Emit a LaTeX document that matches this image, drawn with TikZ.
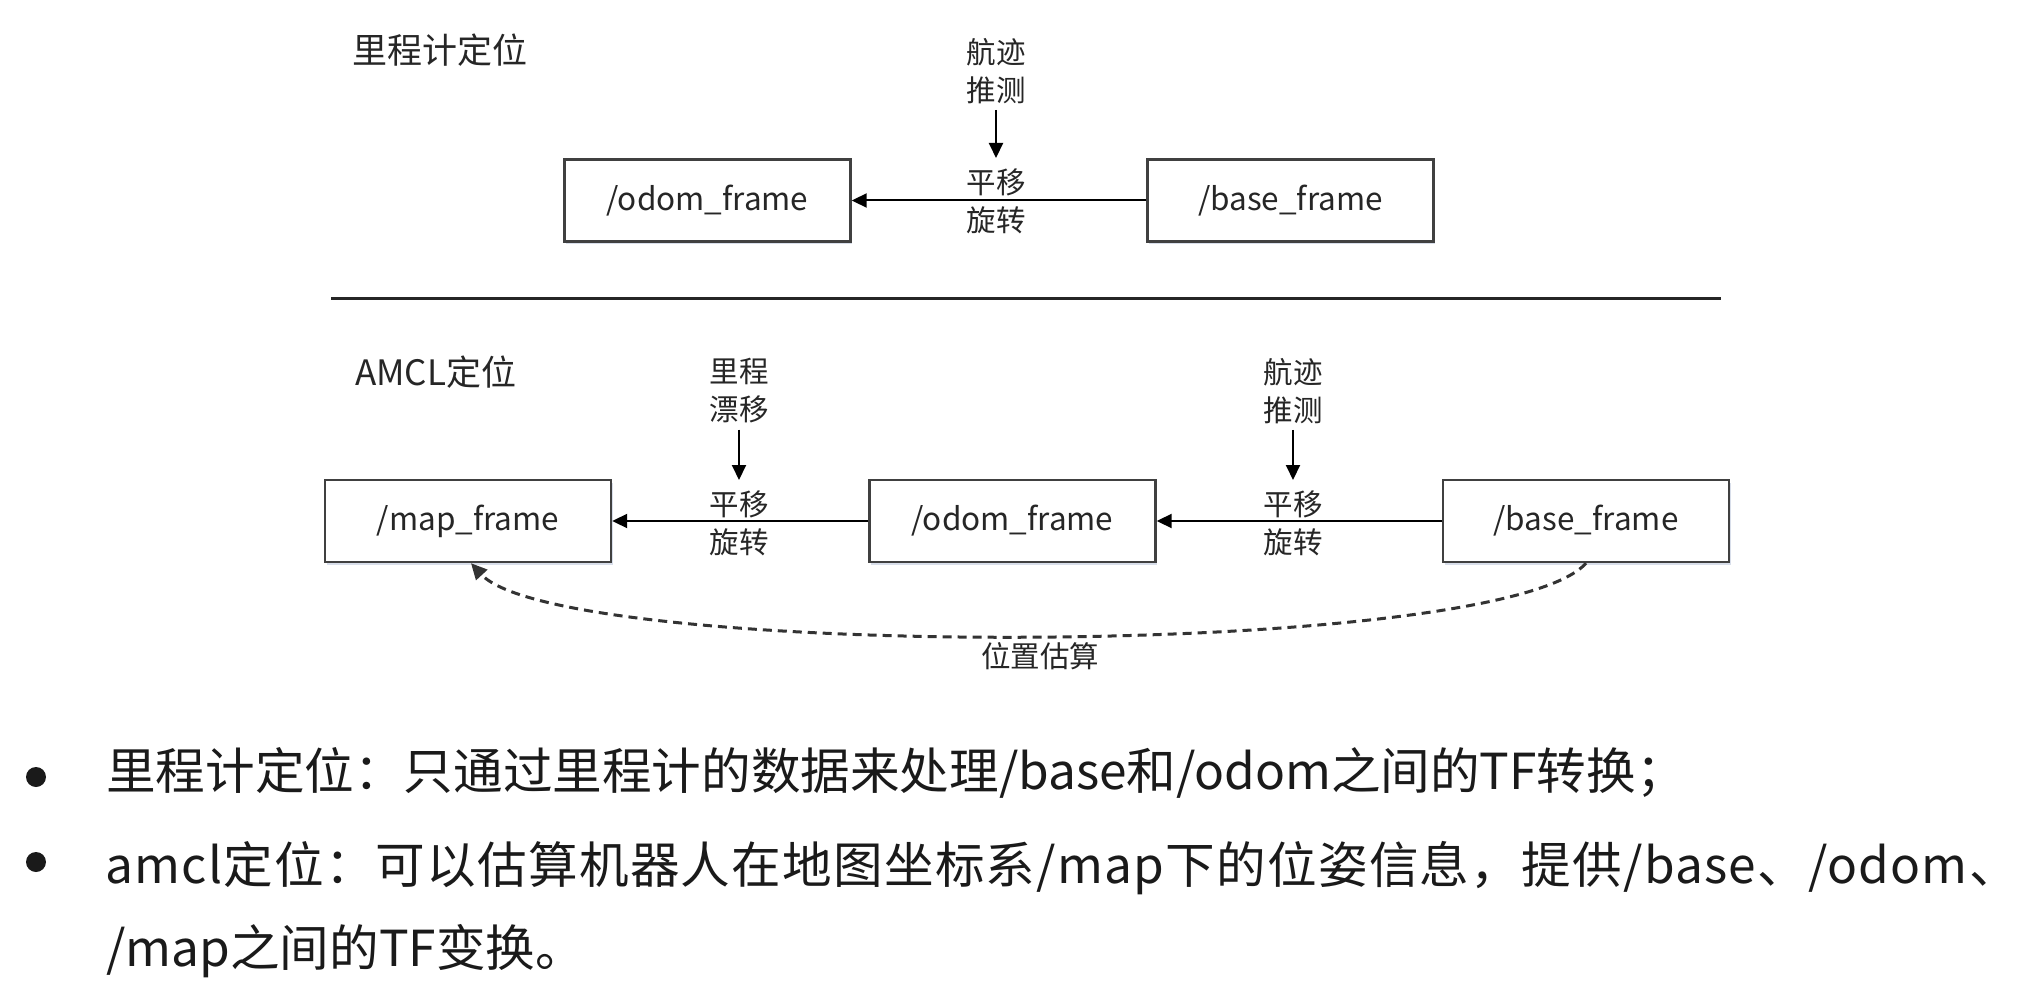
\documentclass[tikz,border=0pt]{standalone}
\usepackage{fontspec}
\setmainfont{Noto Sans CJK SC}
\usetikzlibrary{arrows.meta,shadows}
\definecolor{boxline}{HTML}{404040}
\definecolor{txt}{HTML}{262626}
\definecolor{shadowc}{HTML}{D8DEEA}
\definecolor{bul}{HTML}{1A1A1A}
\tikzset{
  frame/.style={draw=boxline, line width=2.4pt, fill=white, minimum width=286pt, minimum height=82pt, inner sep=0pt,
     font=\fontsize{31.5}{36}\selectfont, text=txt,
     drop shadow={shadow xshift=1.5pt, shadow yshift=-3pt, fill=shadowc, opacity=1}},
  lbl/.style={inner sep=0pt, align=center, font=\fontsize{29.5}{38}\selectfont, text=txt},
  ttl/.style={inner sep=0pt, anchor=west, font=\fontsize{35}{40}\selectfont, text=txt},
  arr/.style={draw=black, line width=2pt, -{Triangle[length=15pt,width=14pt]}},
  darr/.style={draw=black!80, line width=3pt, dash pattern=on 9pt off 6pt, -{Triangle[length=16pt,width=15pt]}},
  btxt/.style={inner sep=0pt, anchor=base west, font=\fontsize{49.6}{60}\selectfont, text=bul},
}
\begin{document}
\begin{tikzpicture}[x=1pt,y=-1pt]
\fill[white] (0,0) rectangle (2027,987);
\useasboundingbox (0,0) rectangle (2027,987);

% ---------- top: odometry localisation ----------
\node[ttl] (t1) at (352,50) {里程计定位};
\node[frame] (odomA) at (707.5,200.5) {/odom\_frame};
\node[frame] (baseA) at (1290.5,200.5) {/base\_frame};
\draw[arr] (baseA.west) -- (odomA.east);
\node[lbl] (trA) at (996,201) {平移\\旋转};
\node[lbl] (drA) at (996,71) {航迹\\推测};
\coordinate (inA) at (996,158);
\draw[arr] ([yshift=-6pt]drA.south) -- (inA);

% separator
\draw[line width=3pt, draw=black!85] (331,298) -- (1721,298);

% ---------- bottom: AMCL localisation ----------
\node[ttl] (t2) at (355,372) {AMCL定位};
\node[frame] (mapB) at (468,521) {/map\_frame};
\node[frame] (odomB) at (1012.5,521) {/odom\_frame};
\node[frame] (baseB) at (1586,521) {/base\_frame};
\draw[arr] (odomB.west) -- (mapB.east);
\draw[arr] (baseB.west) -- (odomB.east);
\node[lbl] (trB1) at (739,523) {平移\\旋转};
\node[lbl] (trB2) at (1293,523) {平移\\旋转};
\node[lbl] (drB1) at (739,391) {里程\\漂移};
\node[lbl] (drB2) at (1293,391) {航迹\\推测};
\coordinate (inB1) at (739,480);
\coordinate (inB2) at (1293,480);
\draw[arr] ([yshift=-6pt]drB1.south) -- (inB1);
\draw[arr] ([yshift=-6pt]drB2.south) -- (inB2);
\draw[darr] (baseB.south) .. controls (1500,660) and (560,660) .. ([xshift=3pt]mapB.south);
\node[lbl] (est) at (1040,656) {位置估算};

% ---------- bullets ----------
\fill[bul] (36,777) circle (10);
\fill[bul] (36,862) circle (10);
\node[btxt] (b1) at (106,789) {里程计定位：只通过里程计的数据来处理/base和/odom之间的TF转换；};
\node[btxt] (b2) at (105,883) {\addfontfeature{LetterSpace=2.5}amcl定位：可以估算机器人在地图坐标系/map下的位姿信息，提供/base、/odom、};
\node[btxt] (b3) at (106,966) {/map之间的TF变换。};
\end{tikzpicture}
\end{document}
